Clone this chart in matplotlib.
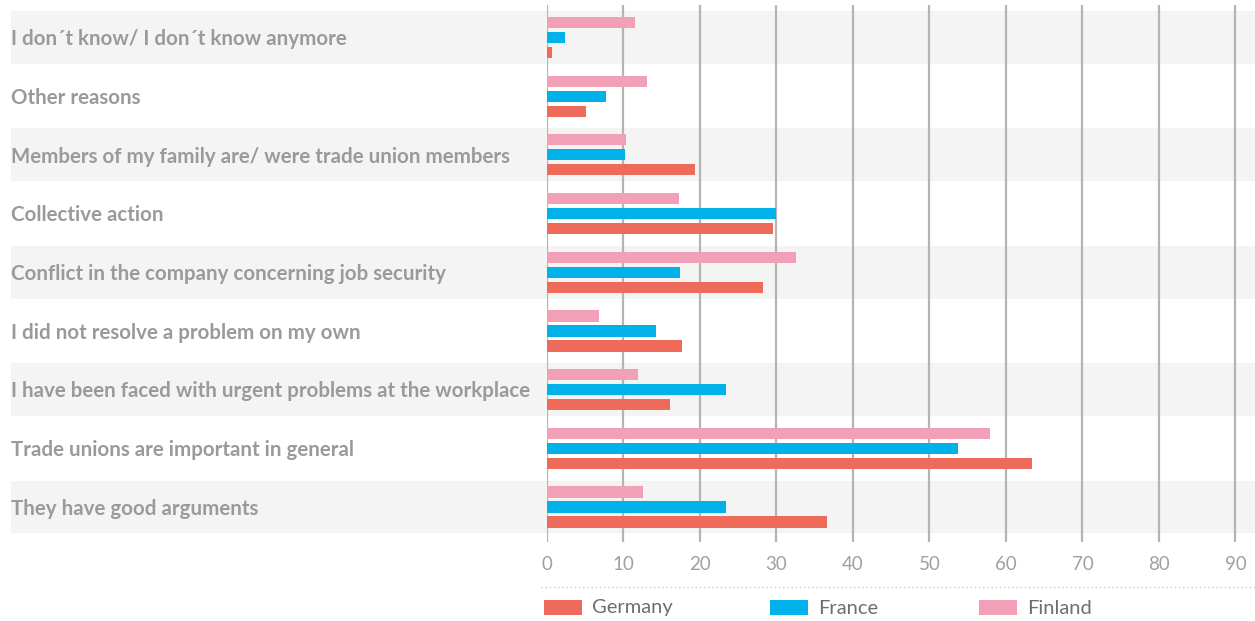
import matplotlib
matplotlib.use("Agg")
import matplotlib.pyplot as plt
import matplotlib.transforms as mtrans
from matplotlib.patches import Rectangle
from matplotlib.lines import Line2D

# Reasons for joining a trade union (share of respondents, %)
categories = [
    "I don\u00b4t know/ I don\u00b4t know anymore",
    "Other reasons",
    "Members of my family are/ were trade union members",
    "Collective action",
    "Conflict in the company concerning job security",
    "I did not resolve a problem on my own",
    "I have been faced with urgent problems at the workplace",
    "Trade unions are important in general",
    "They have good arguments",
]
germany = [0.7, 5.1, 19.4, 29.5, 28.2, 17.6, 16.1, 63.4, 36.6]
france = [2.4, 7.7, 10.2, 29.9, 17.4, 14.3, 23.4, 53.7, 23.4]
finland = [11.5, 13.1, 10.3, 17.3, 32.5, 6.8, 11.9, 57.9, 12.6]
series_names = ["Germany", "France", "Finland"]
x_ticks = [0, 10, 20, 30, 40, 50, 60, 70, 80, 90]

colors = {"Germany": "#EE6A5A", "France": "#00B2E9", "Finland": "#F29FB8"}
label_color = "#9A9A9A"
font = "Lato"

W, H = 1255, 621
fig = plt.figure(figsize=(W / 100, H / 100), dpi=100)
fig.patch.set_facecolor("white")

ax_left, ax_right, ax_top, ax_bottom = 547, 1255, 5, 542
ax = fig.add_axes([ax_left / W, 1 - ax_bottom / H,
                   (ax_right - ax_left) / W, (ax_bottom - ax_top) / H])
ax.set_facecolor("none")

n = len(categories)
ax.set_xlim(0, 92.55)
ax.set_ylim(n - 1 + 0.596, -0.554)

# alternating row bands, stretched left under the category labels
band_xmin = (11 - ax_left) / (ax_right - ax_left)
for i in range(n):
    if i % 2 == 0:
        ax.axhspan(i - 0.451, i + 0.451, xmin=band_xmin, xmax=1,
                   color="#F4F4F4", zorder=0, clip_on=False, lw=0)

# vertical gridlines
for t in x_ticks:
    ax.axvline(t, color="#B4B4B4", lw=1.6, zorder=1)

offset = 0.2555
bar_h = 0.19
ys = list(range(n))
ax.barh([y - offset for y in ys], finland, height=bar_h,
        color=colors["Finland"], zorder=2)
ax.barh(ys, france, height=bar_h, color=colors["France"], zorder=2)
ax.barh([y + offset for y in ys], germany, height=bar_h,
        color=colors["Germany"], zorder=2)

# category labels at the left edge of the figure
trans = mtrans.blended_transform_factory(fig.transFigure, ax.transData)
for i, cat in enumerate(categories):
    ax.text(11 / W, i + 0.03, cat, transform=trans, ha="left", va="center",
            fontsize=14.8, fontweight="bold", color=label_color,
            family=font, clip_on=False)

ax.set_yticks([])
ax.set_xticks(x_ticks)
ax.set_xticklabels([str(t) for t in x_ticks], family=font,
                   fontsize=13.5, color="#A0A0A0")
ax.tick_params(axis="x", length=0, pad=10)
for s in ax.spines.values():
    s.set_visible(False)

# dotted separator above the legend
fig.add_artist(Line2D([541 / W, 1.0], [1 - 587 / H, 1 - 587 / H],
                      transform=fig.transFigure, color="#C8C8C8",
                      lw=1.0, linestyle=(0, (1, 2))))

# legend
legend_x = {"Germany": 544, "France": 770, "Finland": 979}
for name in series_names:
    x0 = legend_x[name]
    fig.add_artist(Rectangle((x0 / W, 1 - 615 / H), 38 / W, 15 / H,
                             transform=fig.transFigure,
                             color=colors[name], lw=0))
    fig.text((x0 + 48) / W, 1 - 608 / H, name, ha="left", va="center",
             fontsize=14.5, color="#6E6E6E", family=font)

fig.savefig("out.png", dpi=100)
